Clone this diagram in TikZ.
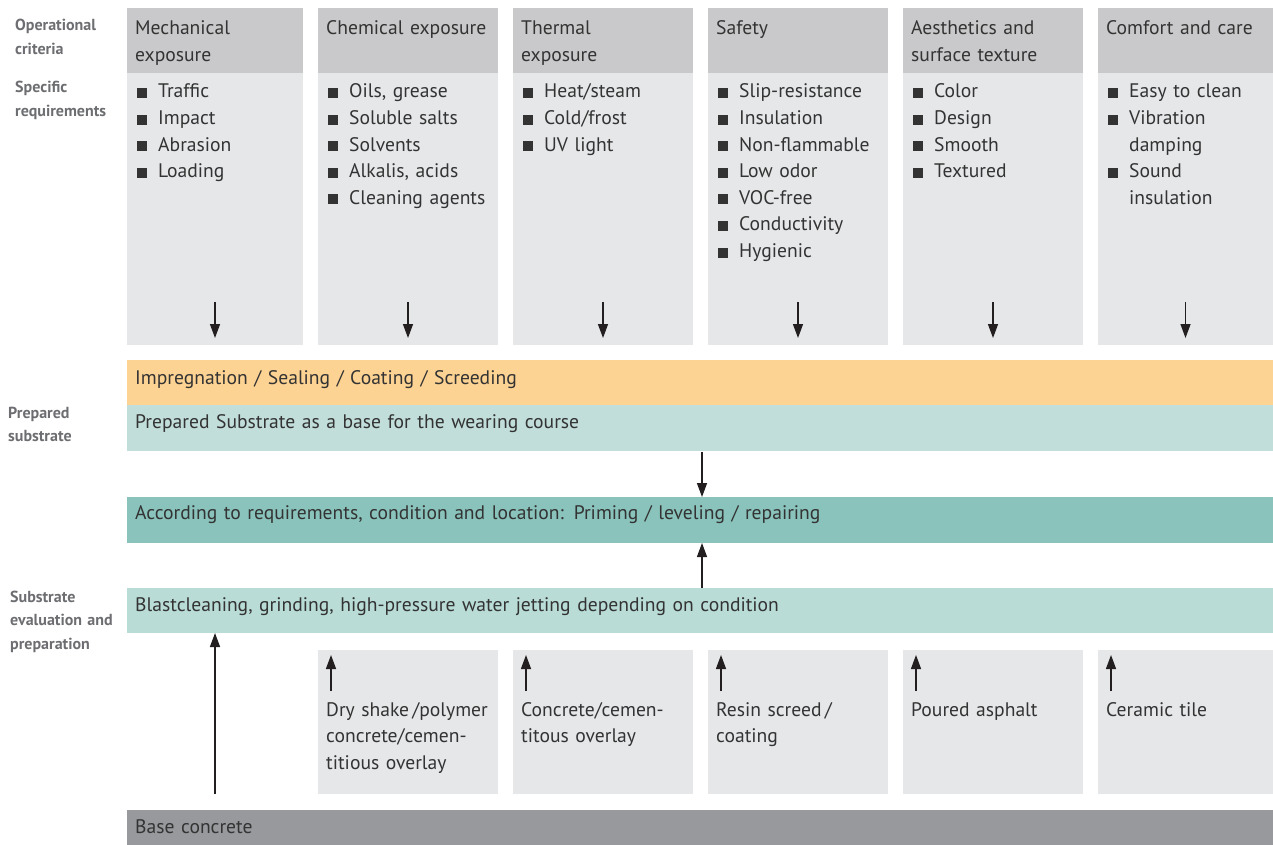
\documentclass[tikz,border=0pt]{standalone}
\usepackage{fontspec}
\setmainfont{PT Sans}
\usetikzlibrary{arrows.meta,calc}
\definecolor{txt}{HTML}{333333}
\definecolor{lbl}{HTML}{6D6E71}
\definecolor{hdr}{HTML}{C9C9CB}
\definecolor{bdy}{HTML}{E6E7E9}
\definecolor{orng}{HTML}{FDD393}
\definecolor{tealA}{HTML}{C1DEDA}
\definecolor{tealB}{HTML}{89C3BB}
\definecolor{tealC}{HTML}{B9DCD6}
\definecolor{basec}{HTML}{98999D}
\definecolor{arr}{HTML}{231F20}
\newcommand\bl{\hspace*{2pt}\makebox[21pt][l]{\rule{10pt}{10pt}}}
\newcommand\ind{\hspace*{23pt}}
\tikzset{
  boxshape/.style={anchor=north west, inner sep=0pt, outer sep=0pt, draw=none},
  maintext/.style={anchor=base west, inner sep=0pt, text=txt, align=left, text width=#1,
    font=\fontsize{19.6}{26.6}\selectfont},
  maintext/.default=178pt,
  lbltext/.style={anchor=base west, inner sep=0pt, text=lbl, align=left, text width=115pt,
    font=\fontsize{16}{23.5}\selectfont\bfseries},
  flow/.style={draw=arr, line width=1.4pt, -{Triangle[length=14pt,width=10pt]}},
}
\begin{document}
\begin{tikzpicture}[x=1pt,y=-1pt]
\useasboundingbox (0,0) rectangle (1273,845);
% side labels
\node[lbltext] (l1) at (15,31) {Operational\\criteria};
\node[lbltext] (l2) at (15,93) {Specific\\requirements};
\node[lbltext] (l3) at (8,418) {Prepared\\substrate};
\node[lbltext] (l4) at (10,602) {Substrate\\evaluation and\\preparation};
% columns
\foreach \i/\xl/\w in {1/127/176,2/318/180,3/513/180,4/708/180,5/903/180,6/1098/175}{
  \node[boxshape, fill=bdy, minimum width=\w pt, minimum height=272pt] (b\i) at (\xl,73) {};
  \node[boxshape, fill=hdr, minimum width=\w pt, minimum height=65pt] (h\i) at (\xl,8) {};
  \coordinate (s\i) at ($(\xl,302)+(\w/2,0)$);
  \coordinate (e\i) at ($(\xl,338)+(\w/2,0)$);
}
\node[maintext] (t1) at (135,35) {Mechanical\\exposure};
\node[maintext] (t2) at (326,35) {Chemical exposure};
\node[maintext] (t3) at (521,35) {Thermal\\exposure};
\node[maintext] (t4) at (716,35) {Safety};
\node[maintext] (t5) at (911,35) {Aesthetics and\\surface texture};
\node[maintext] (t6) at (1106,35) {Comfort and care};
\node[maintext] (r1) at (135,98) {\bl Traffic\\\bl Impact\\\bl Abrasion\\\bl Loading};
\node[maintext] (r2) at (326,98) {\bl Oils, grease\\\bl Soluble salts\\\bl Solvents\\\bl Alkalis, acids\\\bl Cleaning agents};
\node[maintext] (r3) at (521,98) {\bl Heat/steam\\\bl Cold/frost\\\bl UV light};
\node[maintext] (r4) at (716,98) {\bl Slip-resistance\\\bl Insulation\\\bl Non-flammable\\\bl Low odor\\\bl VOC-free\\\bl Conductivity\\\bl Hygienic};
\node[maintext] (r5) at (911,98) {\bl Color\\\bl Design\\\bl Smooth\\\bl Textured};
\node[maintext] (r6) at (1106,98) {\bl Easy to clean\\\bl Vibration\\\ind damping\\\bl Sound\\\ind insulation};
\foreach \i in {1,...,6}{ \draw[flow] (s\i) -- (e\i); }
% bands
\node[boxshape, fill=orng, minimum width=1146pt, minimum height=45pt] (imp) at (127,360) {};
\node[boxshape, fill=tealA, minimum width=1146pt, minimum height=46pt] (prep) at (127,405) {};
\node[boxshape, fill=tealB, minimum width=1146pt, minimum height=46pt] (prim) at (127,497) {};
\node[boxshape, fill=tealC, minimum width=1146pt, minimum height=45pt] (blast) at (127,588) {};
\node[boxshape, fill=basec, minimum width=1146pt, minimum height=35pt] (base) at (127,810) {};
\node[maintext=1100pt] (timp) at (135,384) {Impregnation / Sealing / Coating / Screeding};
\node[maintext=1100pt] (tprep) at (135,428) {Prepared Substrate as a base for the wearing course};
\node[maintext=1100pt] (tprim) at (135,519) {According to requirements, condition and location: Priming / leveling / repairing};
\node[maintext=1100pt] (tblast) at (135,611) {Blastcleaning, grinding, high-pressure water jetting depending on condition};
\node[maintext=1100pt] (tbase) at (135,833) {Base concrete};
% bottom boxes
\foreach \i/\xl/\w in {1/318/180,2/513/180,3/708/180,4/903/180,5/1098/175}{
  \node[boxshape, fill=bdy, minimum width=\w pt, minimum height=144pt] (o\i) at (\xl,650) {};
  \coordinate (os\i) at (\xl+13,691);
  \coordinate (oe\i) at (\xl+13,655);
}
\foreach \i in {1,...,5}{ \draw[flow] (os\i) -- (oe\i); }
\node[maintext] (u1) at (326,716) {Dry shake\,/polymer\\concrete/cemen-\\titious overlay};
\node[maintext] (u2) at (521,716) {Concrete/cemen-\\titous overlay};
\node[maintext] (u3) at (716,716) {Resin screed\,/\\coating};
\node[maintext] (u4) at (911,716) {Poured asphalt};
\node[maintext] (u5) at (1106,716) {Ceramic tile};
% connectors
\coordinate (c1) at (702,452);
\coordinate (c2) at (702,588);
\draw[flow] (c1) -- (c1 |- prim.north);
\draw[flow] (c2) -- (c2 |- prim.south);
\coordinate (c3) at (215,794);
\draw[flow] (c3) -- (c3 |- blast.south);
\end{tikzpicture}
\end{document}
